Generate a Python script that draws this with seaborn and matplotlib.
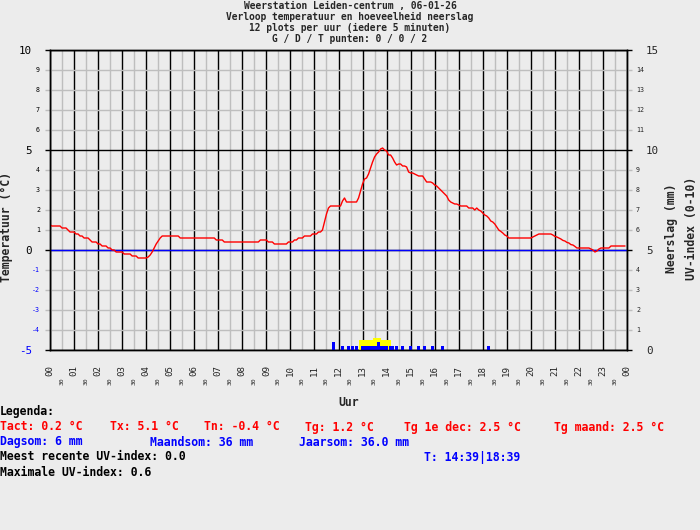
import numpy as np
import pandas as pd
import matplotlib
matplotlib.use("Agg")
import matplotlib.pyplot as plt
import seaborn as sns

# temperatuur per 5 minuten (12 plots per uur), 00:00 .. 23:55
temp = [
    1.25, 1.2, 1.2, 1.2, 1.2, 1.2, 1.1, 1.1, 1.1, 1.0, 0.9, 0.9,
    0.9, 0.8, 0.8, 0.7, 0.7, 0.6, 0.6, 0.6, 0.5, 0.4, 0.4, 0.4,
    0.3, 0.3, 0.2, 0.2, 0.2, 0.1, 0.1, 0.0, 0.0, -0.1, -0.1, -0.1,
    -0.1, -0.2, -0.2, -0.2, -0.2, -0.3, -0.3, -0.3, -0.4, -0.4, -0.4, -0.4,
    -0.4, -0.35, -0.25, -0.1, 0.1, 0.3, 0.45, 0.6, 0.7, 0.7, 0.7, 0.7,
    0.7, 0.7, 0.7, 0.7, 0.7, 0.6, 0.6, 0.6, 0.6, 0.6, 0.6, 0.6,
    0.6, 0.6, 0.6, 0.6, 0.6, 0.6, 0.6, 0.6, 0.6, 0.6, 0.6, 0.5,
    0.5, 0.5, 0.5, 0.4, 0.4, 0.4, 0.4, 0.4, 0.4, 0.4, 0.4, 0.4,
    0.4, 0.4, 0.4, 0.4, 0.4, 0.4, 0.4, 0.4, 0.4, 0.5, 0.5, 0.5,
    0.5, 0.4, 0.4, 0.4, 0.3, 0.3, 0.3, 0.3, 0.3, 0.3, 0.3, 0.4,
    0.4, 0.4, 0.5, 0.5, 0.6, 0.6, 0.6, 0.7, 0.7, 0.7, 0.7, 0.8,
    0.8, 0.8, 0.9, 0.9, 1.0, 1.4, 1.8, 2.1, 2.2, 2.2, 2.2, 2.2,
    2.2, 2.2, 2.45, 2.6, 2.4, 2.4, 2.4, 2.4, 2.4, 2.4, 2.6, 2.95,
    3.3, 3.55, 3.6, 3.8, 4.1, 4.4, 4.65, 4.8, 4.9, 5.05, 5.1, 5.0,
    4.95, 4.75, 4.75, 4.6, 4.4, 4.25, 4.3, 4.3, 4.2, 4.2, 4.15, 3.9,
    3.85, 3.85, 3.8, 3.75, 3.7, 3.7, 3.7, 3.55, 3.4, 3.4, 3.4, 3.35,
    3.25, 3.2, 3.1, 3.0, 2.9, 2.8, 2.7, 2.5, 2.4, 2.35, 2.3, 2.3,
    2.25, 2.2, 2.2, 2.2, 2.2, 2.1, 2.1, 2.1, 2.0, 2.1, 2.0, 1.95,
    1.85, 1.75, 1.7, 1.6, 1.45, 1.4, 1.3, 1.15, 1.0, 0.93, 0.85, 0.75,
    0.7, 0.6, 0.6, 0.6, 0.6, 0.6, 0.6, 0.6, 0.6, 0.6, 0.6, 0.6,
    0.6, 0.65, 0.7, 0.75, 0.8, 0.8, 0.8, 0.8, 0.8, 0.8, 0.8, 0.75,
    0.68, 0.65, 0.6, 0.55, 0.48, 0.45, 0.38, 0.35, 0.27, 0.25, 0.18, 0.1,
    0.1, 0.1, 0.1, 0.1, 0.1, 0.1, 0.05, 0.0, -0.1, -0.05, 0.05, 0.1,
    0.1, 0.1, 0.1, 0.1, 0.2, 0.2, 0.2, 0.2, 0.2, 0.2, 0.2, 0.2,
]

# neerslag (mm) per 5 minuten
rain_times = ["11:45", "12:05", "12:20", "12:30", "12:40",
              "12:55", "13:00", "13:05", "13:10", "13:15", "13:20", "13:25",
              "13:30", "13:35", "13:40", "13:45", "13:50", "13:55",
              "14:05", "14:10", "14:20", "14:35", "14:55", "15:15",
              "15:30", "15:50", "16:15", "18:10"]
rain_mm = [0.4, 0.2, 0.2, 0.2, 0.2,
           0.2, 0.2, 0.2, 0.2, 0.2, 0.2, 0.2,
           0.2, 0.4, 0.2, 0.2, 0.2, 0.2,
           0.2, 0.2, 0.2, 0.2, 0.2, 0.2,
           0.2, 0.2, 0.2, 0.2]

# UV-index
uv_times = ["12:50", "12:55", "13:00", "13:05", "13:10", "13:15", "13:20",
            "13:25", "13:30", "13:35", "13:40",
            "13:45", "13:50", "13:55", "14:00", "14:05"]
uv_index = [0.5, 0.5, 0.5, 0.5, 0.5, 0.5, 0.5,
            0.6, 0.6, 0.6, 0.6,
            0.5, 0.5, 0.5, 0.5, 0.5]

hour_labels = ["%02d" % h for h in range(24)] + ["00"]
left_major = [-5, 0, 5, 10]
left_minor = [-4, -3, -2, -1, 1, 2, 3, 4, 6, 7, 8, 9]
right_major = [0, 5, 10, 15]
right_minor = [1, 2, 3, 4, 6, 7, 8, 9, 11, 12, 13, 14]


def to_hours(t):
    h, m = t.split(":")
    return int(h) + int(m) / 60


sns.set_style("white")
plt.rcParams['font.family'] = ['DejaVu Sans Mono']

BG = '#ECECEC'
GRAY = '#BEBEBE'
BLUE = '#0000FF'
RED = '#FF0000'

fig = plt.figure(figsize=(7, 5.3), dpi=100, facecolor=BG)
ax = fig.add_axes([50 / 700, 180 / 530, 577 / 700, 300 / 530], facecolor=BG)

df = pd.DataFrame({'uur': np.arange(len(temp)) / 12, 'temp': temp})
sns.lineplot(data=df, x='uur', y='temp', color=RED, lw=1, ax=ax, legend=False, zorder=3)
ax.axhline(0, color=BLUE, lw=1, zorder=2)

ax.set_xlim(0, 24)
ax.set_ylim(-5, 10)
ax.set_xlabel('')
ax.set_ylabel('')
ax.set_axisbelow(True)

# x-as: uren en halve uren
ax.set_xticks(range(25), labels=hour_labels)
ax.set_xticks(np.arange(0.5, 24, 1), labels=["30"] * 24, minor=True)
ax.grid(which='major', axis='x', color='black', lw=1)
ax.grid(which='minor', axis='x', color=GRAY, lw=1)
ax.tick_params(axis='x', which='major', length=7.2, width=1, color='black',
               pad=3.6, labelsize=6.6, labelrotation=90)
ax.tick_params(axis='x', which='minor', length=7.2, width=1, color=GRAY,
               pad=12.2, labelsize=4.6, labelrotation=90)

# y-as links: temperatuur
ax.set_yticks(left_major, labels=[str(v) for v in left_major])
ax.set_yticks(left_minor, labels=[str(v) for v in left_minor], minor=True)
ax.grid(which='major', axis='y', color='black', lw=1)
ax.grid(which='minor', axis='y', color=GRAY, lw=1)
ax.tick_params(axis='y', which='major', length=3.6, width=1, color='black',
               pad=9.4, labelsize=7.8)
ax.tick_params(axis='y', which='minor', length=3.6, width=1, color=GRAY,
               pad=3.6, labelsize=4.8)
for lab, v in zip(ax.get_yticklabels(), left_major):
    lab.set_color(BLUE if v < 0 else 'black')
for lab, v in zip(ax.get_yticklabels(minor=True), left_minor):
    lab.set_color(BLUE if v < 0 else 'black')

for sp in ax.spines.values():
    sp.set_color('black')
    sp.set_linewidth(1)

# y-as rechts: neerslag en UV-index
ax2 = ax.twinx()
ax2.grid(False)
ax2.bar([to_hours(t) for t in uv_times], uv_index, width=1.05 / 12, align='edge',
        color='#FFFF00', lw=0, zorder=1)
ax2.bar([to_hours(t) for t in rain_times], rain_mm, width=1.5 / 12, align='edge',
        color=BLUE, lw=0, zorder=2)
ax2.set_ylim(0, 15)
ax2.set_xlim(0, 24)
ax2.set_yticks(right_major, labels=[str(v) for v in right_major])
ax2.set_yticks(right_minor, labels=[str(v) for v in right_minor], minor=True)
ax2.tick_params(axis='y', which='major', length=3.6, width=1, color='black',
                pad=10, labelsize=7.8)
ax2.tick_params(axis='y', which='minor', length=3.6, width=1, color=GRAY,
                pad=2.9, labelsize=4.8)
for sp in ax2.spines.values():
    sp.set_color('black')
    sp.set_linewidth(1)


def fig_text(x, y, s, **kw):
    fig.text(x / 700, 1 - y / 530, s, **kw)


# titel
title = ["Weerstation Leiden-centrum , 06-01-26",
         "Verloop temperatuur en hoeveelheid neerslag",
         "12 plots per uur (iedere 5 minuten)",
         "G / D / T punten: 0 / 0 / 2"]
for i, line in enumerate(title):
    fig_text(350, 5.5 + 11.2 * i, line, ha='center', va='center', fontsize=6.9, fontweight='bold')

# aslabels
fig_text(7, 227, "Temperatuur (°C)", rotation=90, ha='center', va='center',
         fontsize=8.3, fontweight='bold')
fig_text(672, 228, "Neerslag (mm)", rotation=90, ha='center', va='center',
         fontsize=8.3, fontweight='bold')
fig_text(691, 228, "UV-index (0-10)", rotation=90, ha='center', va='center',
         fontsize=8.3, fontweight='bold')
fig_text(338, 402, "Uur", ha='left', va='center', fontsize=8.3, fontweight='bold')

# legenda
leg = dict(va='center', fontsize=8.3, fontweight='bold')
fig_text(0, 412, "Legenda:", color='black', **leg)
for x, s in [(0, "Tact: 0.2 °C"), (110, "Tx: 5.1 °C"), (204, "Tn: -0.4 °C"),
             (305, "Tg: 1.2 °C"), (404, "Tg 1e dec: 2.5 °C"), (554, "Tg maand: 2.5 °C")]:
    fig_text(x, 427, s, color=RED, **leg)
for x, s in [(0, "Dagsom: 6 mm"), (150, "Maandsom: 36 mm"), (299, "Jaarsom: 36.0 mm")]:
    fig_text(x, 442, s, color=BLUE, **leg)
fig_text(0, 457, "Meest recente UV-index: 0.0", color='black', **leg)
fig_text(424, 457, "T: 14:39|18:39", color=BLUE, **leg)
fig_text(0, 472, "Maximale UV-index: 0.6", color='black', **leg)

fig.savefig("out.png", dpi=100, facecolor=BG)
